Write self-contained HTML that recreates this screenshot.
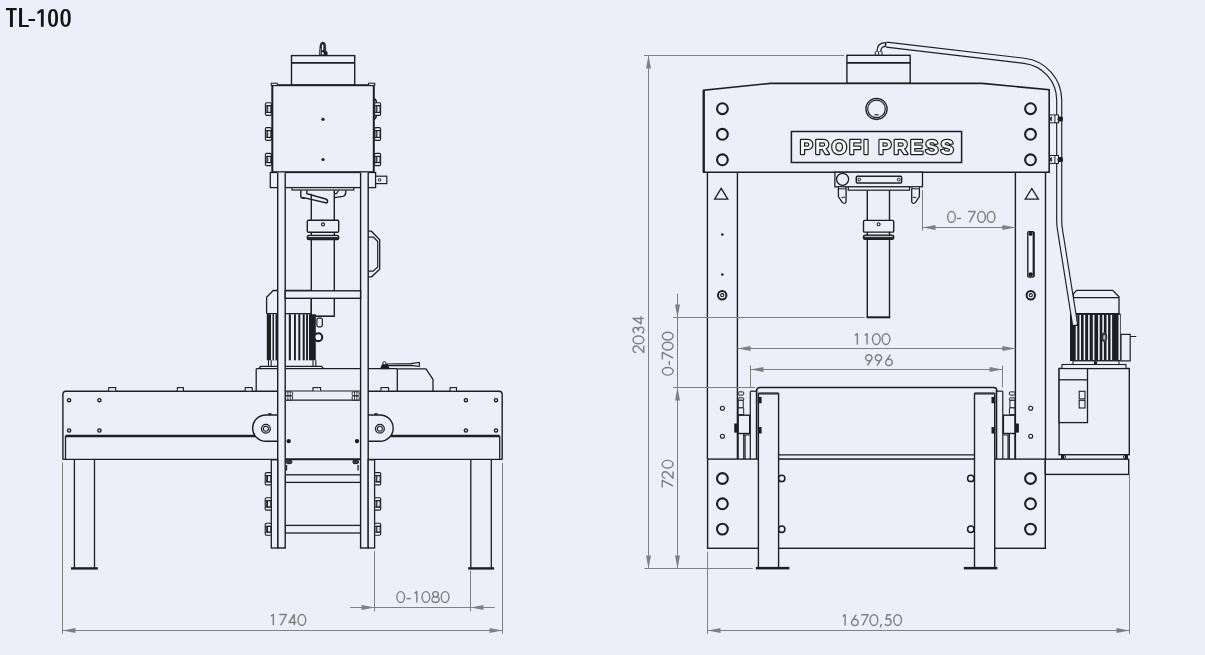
<!DOCTYPE html>
<html><head><meta charset="utf-8"><style>
html,body{margin:0;padding:0;background:#ECEFF9;}
body{width:1205px;height:655px;overflow:hidden;position:relative;font-family:"Liberation Sans",sans-serif;}
#t{position:absolute;left:5.5px;top:1.5px;font-size:28px;font-weight:bold;color:#111;transform:scaleX(0.74);transform-origin:0 0;letter-spacing:0px;}
svg{position:absolute;left:0;top:0;}
svg text{font-family:"Liberation Sans",sans-serif;}
</style></head><body>
<svg width="1205" height="655" viewBox="0 0 1205 655">
<path fill="#141414" d="M6,8 H16.7 V10.15 H12.9 V26.9 H9.95 V10.15 H6 Z"/>
<path fill="#141414" d="M19.1,8 H22.05 V24.9 H28.8 V26.9 H19.1 Z"/>
<rect fill="#141414" x="28.4" y="19" width="6.6" height="2"/>
<path fill="#141414" d="M40.9,9.2 H43.7 V26.8 H40.9 V12.3 L37.4,14.2 V11.8 Z"/>
<path fill="#141414" fill-rule="evenodd" d="M53.05,9.1 C56.762499999999996,9.1 58.0,12.1975 58.0,17.95 C58.0,23.7025 56.762499999999996,26.8 53.05,26.8 C49.3375,26.8 48.1,23.7025 48.1,17.95 C48.1,12.1975 49.3375,9.1 53.05,9.1 Z M53.05,11.1 C54.699999999999996,11.1 55.25,13.4975 55.25,17.95 C55.25,22.4025 54.699999999999996,24.8 53.05,24.8 C51.4,24.8 50.849999999999994,22.4025 50.849999999999994,17.95 C50.849999999999994,13.4975 51.4,11.1 53.05,11.1 Z"/>
<path fill="#141414" fill-rule="evenodd" d="M65.6,9.1 C69.425,9.1 70.7,12.1975 70.7,17.95 C70.7,23.7025 69.425,26.8 65.6,26.8 C61.77499999999999,26.8 60.5,23.7025 60.5,17.95 C60.5,12.1975 61.77499999999999,9.1 65.6,9.1 Z M65.6,11.1 C67.3625,11.1 67.94999999999999,13.4975 67.94999999999999,17.95 C67.94999999999999,22.4025 67.3625,24.8 65.6,24.8 C63.83749999999999,24.8 63.24999999999999,22.4025 63.24999999999999,17.95 C63.24999999999999,13.4975 63.83749999999999,11.1 65.6,11.1 Z"/>
<path d="M319.3,55.5 L320.0,45.5 Q320.6,42.0 322.8,42.0 Q325.2,42.0 325.6,45.5 L325.8,51 L327.2,52 L327.2,55.5 Z" stroke="#1E1E22" stroke-width="0.6" fill="#1E1E22"/>
<rect x="321.9" y="44.6" width="1.5" height="5.6" fill="#F4F6FC"/>
<rect x="321.8" y="52.3" width="1.8" height="2.3" fill="#F4F6FC"/>
<rect x="320.3" y="48.5" width="0.6" height="6.1" fill="#C8CCD8"/>
<rect x="291.5" y="55.6" width="63.2" height="29.6" stroke="#1E1E22" stroke-width="1.4" fill="#ECEFF9" rx="0"/>
<line x1="291.5" y1="62.9" x2="354.7" y2="62.9" stroke="#1E1E22" stroke-width="1.7"/>
<rect x="272.3" y="85.2" width="101.5" height="87.0" stroke="#1E1E22" stroke-width="2.0" fill="#ECEFF9" rx="0"/>
<rect x="271.2" y="83.2" width="6.1" height="2.2" stroke="#1E1E22" stroke-width="1.0" fill="#ECEFF9" rx="0"/>
<rect x="368.6" y="83.2" width="6.2" height="2.2" stroke="#1E1E22" stroke-width="1.0" fill="#ECEFF9" rx="0"/>
<path d="M374.2,98.5 Q376.5,100 376.5,103 L376.5,114.5 Q376.5,117.5 374.2,119.5" stroke="#1E1E22" stroke-width="1.6" fill="none"/>
<rect x="265.4" y="102.7" width="6.0" height="12.7" stroke="#1E1E22" stroke-width="1.1" fill="#ECEFF9" rx="1.2"/>
<line x1="266.9" y1="105.7" x2="266.9" y2="112.4" stroke="#1E1E22" stroke-width="1.0"/>
<rect x="267.7" y="105.7" width="3.1" height="6.7" stroke="#1E1E22" stroke-width="1.0" fill="#ECEFF9" rx="0"/>
<line x1="265.4" y1="105.7" x2="271.4" y2="105.7" stroke="#1E1E22" stroke-width="1.0"/>
<line x1="265.4" y1="112.4" x2="271.4" y2="112.4" stroke="#1E1E22" stroke-width="1.0"/>
<rect x="374.6" y="102.7" width="6.0" height="12.7" stroke="#1E1E22" stroke-width="1.1" fill="#ECEFF9" rx="1.2"/>
<line x1="376.1" y1="105.7" x2="376.1" y2="112.4" stroke="#1E1E22" stroke-width="1.0"/>
<rect x="376.90000000000003" y="105.7" width="3.1" height="6.7" stroke="#1E1E22" stroke-width="1.0" fill="#ECEFF9" rx="0"/>
<line x1="374.6" y1="105.7" x2="380.6" y2="105.7" stroke="#1E1E22" stroke-width="1.0"/>
<line x1="374.6" y1="112.4" x2="380.6" y2="112.4" stroke="#1E1E22" stroke-width="1.0"/>
<rect x="265.4" y="127.6" width="6.0" height="12.8" stroke="#1E1E22" stroke-width="1.1" fill="#ECEFF9" rx="1.2"/>
<line x1="266.9" y1="130.6" x2="266.9" y2="137.4" stroke="#1E1E22" stroke-width="1.0"/>
<rect x="267.7" y="130.6" width="3.1" height="6.8" stroke="#1E1E22" stroke-width="1.0" fill="#ECEFF9" rx="0"/>
<line x1="265.4" y1="130.6" x2="271.4" y2="130.6" stroke="#1E1E22" stroke-width="1.0"/>
<line x1="265.4" y1="137.4" x2="271.4" y2="137.4" stroke="#1E1E22" stroke-width="1.0"/>
<rect x="374.6" y="127.6" width="6.0" height="12.8" stroke="#1E1E22" stroke-width="1.1" fill="#ECEFF9" rx="1.2"/>
<line x1="376.1" y1="130.6" x2="376.1" y2="137.4" stroke="#1E1E22" stroke-width="1.0"/>
<rect x="376.90000000000003" y="130.6" width="3.1" height="6.8" stroke="#1E1E22" stroke-width="1.0" fill="#ECEFF9" rx="0"/>
<line x1="374.6" y1="130.6" x2="380.6" y2="130.6" stroke="#1E1E22" stroke-width="1.0"/>
<line x1="374.6" y1="137.4" x2="380.6" y2="137.4" stroke="#1E1E22" stroke-width="1.0"/>
<rect x="265.4" y="153.4" width="6.0" height="12.2" stroke="#1E1E22" stroke-width="1.1" fill="#ECEFF9" rx="1.2"/>
<line x1="266.9" y1="156.4" x2="266.9" y2="162.6" stroke="#1E1E22" stroke-width="1.0"/>
<rect x="267.7" y="156.4" width="3.1" height="6.2" stroke="#1E1E22" stroke-width="1.0" fill="#ECEFF9" rx="0"/>
<line x1="265.4" y1="156.4" x2="271.4" y2="156.4" stroke="#1E1E22" stroke-width="1.0"/>
<line x1="265.4" y1="162.6" x2="271.4" y2="162.6" stroke="#1E1E22" stroke-width="1.0"/>
<rect x="374.6" y="153.4" width="6.0" height="12.2" stroke="#1E1E22" stroke-width="1.1" fill="#ECEFF9" rx="1.2"/>
<line x1="376.1" y1="156.4" x2="376.1" y2="162.6" stroke="#1E1E22" stroke-width="1.0"/>
<rect x="376.90000000000003" y="156.4" width="3.1" height="6.2" stroke="#1E1E22" stroke-width="1.0" fill="#ECEFF9" rx="0"/>
<line x1="374.6" y1="156.4" x2="380.6" y2="156.4" stroke="#1E1E22" stroke-width="1.0"/>
<line x1="374.6" y1="162.6" x2="380.6" y2="162.6" stroke="#1E1E22" stroke-width="1.0"/>
<circle cx="323" cy="119.3" r="1.6" fill="#1E1E22"/>
<circle cx="323" cy="159.5" r="1.6" fill="#1E1E22"/>
<rect x="270.3" y="172.5" width="105.3" height="15.1" stroke="#1E1E22" stroke-width="1.3" fill="#ECEFF9" rx="0"/>
<rect x="375.6" y="176.2" width="11.2" height="7.4" stroke="#1E1E22" stroke-width="1.2" fill="#ECEFF9" rx="0"/>
<circle cx="379.6" cy="179.9" r="1.3" stroke="#1E1E22" stroke-width="1.0" fill="none"/>
<rect x="292" y="187.6" width="61.8" height="2.4" stroke="#1E1E22" stroke-width="1.2" fill="#ECEFF9" rx="0"/>
<path d="M300.8,190.2 L300.8,196 Q300.8,198.2 303.2,198.3 L305,198.3" stroke="#1E1E22" stroke-width="1.4" fill="none"/>
<path d="M306.9,190.2 L306.9,193.6 L325.8,199.0 Q328.2,200.2 327.4,202.4 L326.6,203.0 L302.5,197.4" stroke="#1E1E22" stroke-width="1.4" fill="#ECEFF9"/>
<line x1="311.3" y1="193.8" x2="311.3" y2="198.5" stroke="#1E1E22" stroke-width="1.3"/>
<path d="M334.2,197.6 L342.8,196.4 Q345.7,195.6 345.7,192.5 L345.7,190.2" stroke="#1E1E22" stroke-width="1.4" fill="none"/>
<path d="M334.2,193.6 L336.5,193.6 L338.6,190.4" stroke="#1E1E22" stroke-width="1.1" fill="none"/>
<line x1="311.3" y1="198" x2="311.3" y2="316.4" stroke="#1E1E22" stroke-width="1.4"/>
<line x1="334.3" y1="190" x2="334.3" y2="316.4" stroke="#1E1E22" stroke-width="1.4"/>
<rect x="307.3" y="220.3" width="31.4" height="12.0" stroke="#1E1E22" stroke-width="1.4" fill="#ECEFF9" rx="1.2"/>
<circle cx="323" cy="224.4" r="1.5" stroke="#1E1E22" stroke-width="1.1" fill="none"/>
<rect x="307.3" y="235.4" width="31.4" height="4.2" stroke="#1E1E22" stroke-width="1.4" fill="#2a2a30" rx="1.6"/>
<line x1="308.3" y1="236.5" x2="337.7" y2="236.5" stroke="#E8EAF4" stroke-width="0.9"/>
<path d="M266.6,313.7 L266.6,297.3 L273.2,290.5 L311.3,290.5" stroke="#1E1E22" stroke-width="1.3" fill="none"/>
<line x1="266.6" y1="313.7" x2="311.3" y2="313.7" stroke="#1E1E22" stroke-width="1.3"/>
<line x1="311.3" y1="298.3" x2="311.3" y2="316.2" stroke="#1E1E22" stroke-width="1.3"/>
<line x1="311.3" y1="316.2" x2="334.6" y2="316.2" stroke="#1E1E22" stroke-width="1.6"/>
<rect x="266.8" y="314.2" width="10.8" height="46.1" fill="#1E1E22"/>
<rect x="271.0" y="314.2" width="1.5" height="46.1" fill="#ECEFF9"/>
<rect x="274.0" y="314.2" width="1.5" height="46.1" fill="#ECEFF9"/>
<rect x="288.8" y="314.2" width="2.1" height="46.1" fill="#1E1E22"/>
<rect x="294.0" y="314.2" width="1.9" height="46.1" fill="#1E1E22"/>
<rect x="298.3" y="314.2" width="2.0" height="46.1" fill="#1E1E22"/>
<rect x="302.7" y="314.2" width="2.0" height="46.1" fill="#1E1E22"/>
<rect x="306.1" y="314.2" width="1.9" height="46.1" fill="#1E1E22"/>
<rect x="309.0" y="314.2" width="6.8" height="46.1" fill="#1E1E22"/>
<line x1="285.2" y1="314.2" x2="285.2" y2="360.3" stroke="#1E1E22" stroke-width="1.2"/>
<line x1="268.5" y1="360.3" x2="268.5" y2="366.3" stroke="#1E1E22" stroke-width="1.1"/>
<line x1="271.2" y1="360.3" x2="271.2" y2="366.3" stroke="#1E1E22" stroke-width="1.1"/>
<line x1="313.0" y1="360.3" x2="313.0" y2="366.3" stroke="#1E1E22" stroke-width="1.1"/>
<line x1="315.8" y1="360.3" x2="315.8" y2="366.3" stroke="#1E1E22" stroke-width="1.1"/>
<path d="M259,368.7 L260.5,366.3 L321.5,366.3 L323.5,368.7" stroke="#1E1E22" stroke-width="1.3" fill="none"/>
<rect x="316.9" y="318.1" width="5.4" height="8.7" stroke="#1E1E22" stroke-width="1.2" fill="#ECEFF9" rx="1.5"/>
<circle cx="318.3" cy="337.2" r="3.9" stroke="#1E1E22" stroke-width="2.1" fill="#F4F6FC"/>
<line x1="256.2" y1="368.7" x2="256.2" y2="390.9" stroke="#1E1E22" stroke-width="1.3"/>
<line x1="256.2" y1="368.7" x2="397.3" y2="368.7" stroke="#1E1E22" stroke-width="1.3"/>
<line x1="397.3" y1="368.7" x2="397.3" y2="390.9" stroke="#1E1E22" stroke-width="1.3"/>
<path d="M397.3,368.9 L426,368.9 L433,379.5 L433,390.9" stroke="#1E1E22" stroke-width="1.3" fill="none"/>
<path d="M387,364.0 L411,363.6 L419.4,362.4 L419.4,366.3 L411,365.4 L387,365.6" stroke="#1E1E22" stroke-width="1.1" fill="#ECEFF9"/>
<path d="M380.6,368.6 L382.2,364.8 L385.0,363.5 L387.6,364.6 L389.0,368.6 Z" stroke="#1E1E22" stroke-width="1.0" fill="#1E1E22"/>
<circle cx="384.4" cy="363.2" r="1.6" stroke="#1E1E22" stroke-width="1.0" fill="#ECEFF9"/>
<path d="M62.9,459.4 L62.9,394.3 Q62.9,391.2 66,391.2 L499,391.2 Q502.2,391.2 502.2,394.3 L502.2,459.4" stroke="#1E1E22" stroke-width="1.4" fill="none"/>
<line x1="62.9" y1="459.4" x2="502.2" y2="459.4" stroke="#1E1E22" stroke-width="1.3"/>
<line x1="65.5" y1="436.0" x2="258" y2="436.0" stroke="#1E1E22" stroke-width="2.3"/>
<line x1="388" y1="436.0" x2="499.7" y2="436.0" stroke="#1E1E22" stroke-width="2.3"/>
<line x1="65.5" y1="436" x2="65.5" y2="459.4" stroke="#1E1E22" stroke-width="1.3"/>
<line x1="499.7" y1="436" x2="499.7" y2="459.4" stroke="#1E1E22" stroke-width="1.3"/>
<rect x="108.7" y="387.6" width="7.0" height="3.6" stroke="#1E1E22" stroke-width="1.1" fill="#ECEFF9" rx="0"/>
<rect x="177.4" y="387.6" width="6.0" height="3.6" stroke="#1E1E22" stroke-width="1.1" fill="#ECEFF9" rx="0"/>
<rect x="245.2" y="387.6" width="7.0" height="3.6" stroke="#1E1E22" stroke-width="1.1" fill="#ECEFF9" rx="0"/>
<rect x="313" y="387.6" width="7.6" height="3.6" stroke="#1E1E22" stroke-width="1.1" fill="#ECEFF9" rx="0"/>
<rect x="381" y="387.6" width="7.6" height="3.6" stroke="#1E1E22" stroke-width="1.1" fill="#ECEFF9" rx="0"/>
<rect x="450.1" y="387.6" width="6.4" height="3.6" stroke="#1E1E22" stroke-width="1.1" fill="#ECEFF9" rx="0"/>
<circle cx="69.1" cy="400.2" r="1.6" stroke="#1E1E22" stroke-width="1.4" fill="none"/>
<circle cx="99.4" cy="400.2" r="1.6" stroke="#1E1E22" stroke-width="1.4" fill="none"/>
<circle cx="69.1" cy="430.5" r="1.6" stroke="#1E1E22" stroke-width="1.4" fill="none"/>
<circle cx="99.4" cy="430.5" r="1.6" stroke="#1E1E22" stroke-width="1.4" fill="none"/>
<circle cx="465.9" cy="400.2" r="1.6" stroke="#1E1E22" stroke-width="1.4" fill="none"/>
<circle cx="496" cy="400.2" r="1.6" stroke="#1E1E22" stroke-width="1.4" fill="none"/>
<circle cx="465.9" cy="430.5" r="1.6" stroke="#1E1E22" stroke-width="1.4" fill="none"/>
<circle cx="496" cy="430.5" r="1.6" stroke="#1E1E22" stroke-width="1.4" fill="none"/>
<line x1="74.4" y1="459" x2="74.4" y2="568" stroke="#1E1E22" stroke-width="1.3"/>
<line x1="94.5" y1="459" x2="94.5" y2="568" stroke="#1E1E22" stroke-width="1.3"/>
<rect x="71" y="567.2" width="26.8" height="2.4" fill="#1E1E22"/>
<line x1="470.8" y1="459" x2="470.8" y2="568" stroke="#1E1E22" stroke-width="1.3"/>
<line x1="491.3" y1="459" x2="491.3" y2="568" stroke="#1E1E22" stroke-width="1.3"/>
<rect x="468.2" y="567.2" width="25.9" height="2.4" fill="#1E1E22"/>
<rect x="278" y="391.5" width="82.5" height="68.0" fill="#ECEFF9"/>
<line x1="285.2" y1="400.1" x2="360.6" y2="400.1" stroke="#1E1E22" stroke-width="1.4"/>
<line x1="285.2" y1="459.2" x2="360.6" y2="459.2" stroke="#1E1E22" stroke-width="2.0"/>
<rect x="285.6" y="391.8" width="7.0" height="3.8" stroke="#1E1E22" stroke-width="0.9" fill="#F4F6FC" rx="0.8"/>
<line x1="287.90000000000003" y1="391.8" x2="287.90000000000003" y2="395.6" stroke="#1E1E22" stroke-width="0.8"/>
<line x1="290.3" y1="391.8" x2="290.3" y2="395.6" stroke="#1E1E22" stroke-width="0.8"/>
<rect x="285.6" y="396.0" width="7.0" height="4.0" stroke="#1E1E22" stroke-width="0.9" fill="#F4F6FC" rx="0.8"/>
<line x1="287.90000000000003" y1="396.0" x2="287.90000000000003" y2="400.0" stroke="#1E1E22" stroke-width="0.8"/>
<line x1="290.3" y1="396.0" x2="290.3" y2="400.0" stroke="#1E1E22" stroke-width="0.8"/>
<rect x="286.40000000000003" y="460.3" width="5.4" height="3.3" stroke="#1E1E22" stroke-width="1.0" fill="#3a3a40" rx="1"/>
<rect x="285.90000000000003" y="465" width="1.3" height="5.5" fill="#333"/>
<rect x="352.2" y="391.8" width="7.0" height="3.8" stroke="#1E1E22" stroke-width="0.9" fill="#F4F6FC" rx="0.8"/>
<line x1="354.5" y1="391.8" x2="354.5" y2="395.6" stroke="#1E1E22" stroke-width="0.8"/>
<line x1="356.9" y1="391.8" x2="356.9" y2="395.6" stroke="#1E1E22" stroke-width="0.8"/>
<rect x="352.2" y="396.0" width="7.0" height="4.0" stroke="#1E1E22" stroke-width="0.9" fill="#F4F6FC" rx="0.8"/>
<line x1="354.5" y1="396.0" x2="354.5" y2="400.0" stroke="#1E1E22" stroke-width="0.8"/>
<line x1="356.9" y1="396.0" x2="356.9" y2="400.0" stroke="#1E1E22" stroke-width="0.8"/>
<rect x="353.0" y="460.3" width="5.4" height="3.3" stroke="#1E1E22" stroke-width="1.0" fill="#3a3a40" rx="1"/>
<rect x="357.4" y="465" width="1.4" height="5.5" fill="#333"/>
<circle cx="288.7" cy="441.1" r="2.2" fill="#1E1E22"/>
<circle cx="357.0" cy="441.1" r="2.2" fill="#1E1E22"/>
<path d="M277.7,415 L265.8,415 A13.15,13.15 0 0 0 265.8,441.3 L277.7,441.3" stroke="#1E1E22" stroke-width="1.4" fill="#ECEFF9"/>
<circle cx="265.9" cy="428.7" r="4.4" stroke="#1E1E22" stroke-width="1.3" fill="none"/>
<circle cx="265.9" cy="428.7" r="2.5" stroke="#1E1E22" stroke-width="1.1" fill="none"/>
<rect x="268.3" y="413.2" width="3.2" height="1.8" fill="#1E1E22"/>
<path d="M368.2,415 L380.0,415 A13.15,13.15 0 0 1 380.0,441.3 L368.2,441.3" stroke="#1E1E22" stroke-width="1.4" fill="#ECEFF9"/>
<circle cx="379.9" cy="428.7" r="4.4" stroke="#1E1E22" stroke-width="1.3" fill="none"/>
<circle cx="379.9" cy="428.7" r="2.5" stroke="#1E1E22" stroke-width="1.1" fill="none"/>
<rect x="374.4" y="413.2" width="3.2" height="1.8" fill="#1E1E22"/>
<rect x="285.2" y="474.8" width="75.4" height="7.6" stroke="#1E1E22" stroke-width="1.3" fill="#ECEFF9" rx="0"/>
<rect x="285.2" y="525.4" width="75.4" height="7.6" stroke="#1E1E22" stroke-width="1.3" fill="#ECEFF9" rx="0"/>
<rect x="277.7" y="172.5" width="7.5" height="375.5" fill="#ECEFF9"/>
<line x1="277.7" y1="172.8" x2="277.7" y2="548" stroke="#1E1E22" stroke-width="1.4"/>
<line x1="285.2" y1="172.8" x2="285.2" y2="548" stroke="#1E1E22" stroke-width="1.4"/>
<line x1="277.0" y1="548" x2="285.9" y2="548" stroke="#1E1E22" stroke-width="1.4"/>
<rect x="360.6" y="172.5" width="7.6" height="375.5" fill="#ECEFF9"/>
<line x1="360.6" y1="172.8" x2="360.6" y2="548" stroke="#1E1E22" stroke-width="1.4"/>
<line x1="368.2" y1="172.8" x2="368.2" y2="548" stroke="#1E1E22" stroke-width="1.4"/>
<line x1="359.90000000000003" y1="548" x2="368.9" y2="548" stroke="#1E1E22" stroke-width="1.4"/>
<rect x="271.3" y="459.8" width="6.4" height="88.2" stroke="#1E1E22" stroke-width="1.3" fill="#ECEFF9" rx="0"/>
<rect x="368.2" y="459.8" width="6.4" height="88.2" stroke="#1E1E22" stroke-width="1.3" fill="#ECEFF9" rx="0"/>
<rect x="265.2" y="472.6" width="6.1" height="12.3" stroke="#1E1E22" stroke-width="1.1" fill="#ECEFF9" rx="1.2"/>
<line x1="266.7" y1="475.6" x2="266.7" y2="481.9" stroke="#1E1E22" stroke-width="1.0"/>
<rect x="267.5" y="475.6" width="3.2" height="6.3" stroke="#1E1E22" stroke-width="1.0" fill="#ECEFF9" rx="0"/>
<line x1="265.2" y1="475.6" x2="271.3" y2="475.6" stroke="#1E1E22" stroke-width="1.0"/>
<line x1="265.2" y1="481.9" x2="271.3" y2="481.9" stroke="#1E1E22" stroke-width="1.0"/>
<rect x="374.6" y="472.6" width="6.1" height="12.3" stroke="#1E1E22" stroke-width="1.1" fill="#ECEFF9" rx="1.2"/>
<line x1="376.1" y1="475.6" x2="376.1" y2="481.9" stroke="#1E1E22" stroke-width="1.0"/>
<rect x="376.90000000000003" y="475.6" width="3.2" height="6.3" stroke="#1E1E22" stroke-width="1.0" fill="#ECEFF9" rx="0"/>
<line x1="374.6" y1="475.6" x2="380.7" y2="475.6" stroke="#1E1E22" stroke-width="1.0"/>
<line x1="374.6" y1="481.9" x2="380.7" y2="481.9" stroke="#1E1E22" stroke-width="1.0"/>
<rect x="265.2" y="497.7" width="6.1" height="12.4" stroke="#1E1E22" stroke-width="1.1" fill="#ECEFF9" rx="1.2"/>
<line x1="266.7" y1="500.7" x2="266.7" y2="507.1" stroke="#1E1E22" stroke-width="1.0"/>
<rect x="267.5" y="500.7" width="3.2" height="6.4" stroke="#1E1E22" stroke-width="1.0" fill="#ECEFF9" rx="0"/>
<line x1="265.2" y1="500.7" x2="271.3" y2="500.7" stroke="#1E1E22" stroke-width="1.0"/>
<line x1="265.2" y1="507.1" x2="271.3" y2="507.1" stroke="#1E1E22" stroke-width="1.0"/>
<rect x="374.6" y="497.7" width="6.1" height="12.4" stroke="#1E1E22" stroke-width="1.1" fill="#ECEFF9" rx="1.2"/>
<line x1="376.1" y1="500.7" x2="376.1" y2="507.1" stroke="#1E1E22" stroke-width="1.0"/>
<rect x="376.90000000000003" y="500.7" width="3.2" height="6.4" stroke="#1E1E22" stroke-width="1.0" fill="#ECEFF9" rx="0"/>
<line x1="374.6" y1="500.7" x2="380.7" y2="500.7" stroke="#1E1E22" stroke-width="1.0"/>
<line x1="374.6" y1="507.1" x2="380.7" y2="507.1" stroke="#1E1E22" stroke-width="1.0"/>
<rect x="265.2" y="523.3" width="6.1" height="11.9" stroke="#1E1E22" stroke-width="1.1" fill="#ECEFF9" rx="1.2"/>
<line x1="266.7" y1="526.3" x2="266.7" y2="532.2" stroke="#1E1E22" stroke-width="1.0"/>
<rect x="267.5" y="526.3" width="3.2" height="5.9" stroke="#1E1E22" stroke-width="1.0" fill="#ECEFF9" rx="0"/>
<line x1="265.2" y1="526.3" x2="271.3" y2="526.3" stroke="#1E1E22" stroke-width="1.0"/>
<line x1="265.2" y1="532.2" x2="271.3" y2="532.2" stroke="#1E1E22" stroke-width="1.0"/>
<rect x="374.6" y="523.3" width="6.1" height="11.9" stroke="#1E1E22" stroke-width="1.1" fill="#ECEFF9" rx="1.2"/>
<line x1="376.1" y1="526.3" x2="376.1" y2="532.2" stroke="#1E1E22" stroke-width="1.0"/>
<rect x="376.90000000000003" y="526.3" width="3.2" height="5.9" stroke="#1E1E22" stroke-width="1.0" fill="#ECEFF9" rx="0"/>
<line x1="374.6" y1="526.3" x2="380.7" y2="526.3" stroke="#1E1E22" stroke-width="1.0"/>
<line x1="374.6" y1="532.2" x2="380.7" y2="532.2" stroke="#1E1E22" stroke-width="1.0"/>
<path d="M368.6,231.2 L371.4,231.2 L379.7,239.8 L379.7,269.1 L371.6,276.8 L368.6,276.8" stroke="#1E1E22" stroke-width="1.3" fill="none"/>
<path d="M368.6,237.2 L373.6,237.2 L377.7,241.6 L377.7,267.0 L373.2,271.2 L368.6,271.2" stroke="#1E1E22" stroke-width="1.2" fill="none"/>
<rect x="285.2" y="290.8" width="75.4" height="7.5" stroke="#1E1E22" stroke-width="1.4" fill="#ECEFF9" rx="0"/>
<line x1="62.5" y1="462.6" x2="62.5" y2="633.8" stroke="#808080" stroke-width="1.0"/>
<line x1="502.5" y1="462.9" x2="502.5" y2="633.8" stroke="#808080" stroke-width="1.0"/>
<line x1="62.5" y1="630.5" x2="502.5" y2="630.5" stroke="#808080" stroke-width="1.0"/>
<polygon points="62.5,630.5 75.5,628.0 75.5,633.0" fill="#808080"/>
<polygon points="502.5,630.5 489.5,628.0 489.5,633.0" fill="#808080"/>
<line x1="374.5" y1="551.2" x2="374.5" y2="611.5" stroke="#808080" stroke-width="1.0"/>
<line x1="470.5" y1="570.6" x2="470.5" y2="611.5" stroke="#808080" stroke-width="1.0"/>
<line x1="350.2" y1="607.5" x2="494.7" y2="607.5" stroke="#808080" stroke-width="1.0"/>
<polygon points="374.5,607.5 361.5,605.0 361.5,610.0" fill="#808080"/>
<polygon points="470.5,607.5 483.5,605.0 483.5,610.0" fill="#808080"/>
<g transform="translate(0,613.8)" fill="none" stroke="#808080" stroke-width="1.45" stroke-linecap="butt" stroke-linejoin="round"><path transform="translate(270.4,0)" d="M0.6,2.4 L2.9,0.7 L2.9,11.5"/><path transform="translate(279.0,0)" d="M0.3,0.75 L7.4,0.75 L1.7,11.5"/><path transform="translate(288.3,0)" d="M6.0,11.5 L6.0,0.7 L0.7,8.7 L8.2,8.7"/><path transform="translate(297.4,0)" d="M0.6499999999999999,6.1 A3.85,5.4 0 1 0 8.35,6.1 A3.85,5.4 0 1 0 0.6499999999999999,6.1 Z"/></g>
<g transform="translate(0,590.9)" fill="none" stroke="#808080" stroke-width="1.45" stroke-linecap="butt" stroke-linejoin="round"><path transform="translate(396.2,0)" d="M0.6499999999999999,6.1 A3.85,5.4 0 1 0 8.35,6.1 A3.85,5.4 0 1 0 0.6499999999999999,6.1 Z"/><path transform="translate(406.2,0)" d="M0.4,7.7 L4.6,7.7"/><path transform="translate(413.9,0)" d="M0.6,2.4 L2.9,0.7 L2.9,11.5"/><path transform="translate(421.4,0)" d="M0.6499999999999999,6.1 A3.85,5.4 0 1 0 8.35,6.1 A3.85,5.4 0 1 0 0.6499999999999999,6.1 Z"/><path transform="translate(431.3,0)" d="M1.5,3.4 A2.75,2.7 0 1 0 7.0,3.4 A2.75,2.7 0 1 0 1.5,3.4 Z M0.7000000000000002,8.6 A3.55,2.9 0 1 0 7.8,8.6 A3.55,2.9 0 1 0 0.7000000000000002,8.6 Z"/><path transform="translate(440.6,0)" d="M0.6499999999999999,6.1 A3.85,5.4 0 1 0 8.35,6.1 A3.85,5.4 0 1 0 0.6499999999999999,6.1 Z"/></g>
<rect x="875.3" y="51.2" width="6.7" height="4.3" stroke="#1E1E22" stroke-width="1.0" fill="#ECEFF9" rx="1.2"/>
<line x1="878.6" y1="51.5" x2="878.6" y2="55.3" stroke="#1E1E22" stroke-width="1.0"/>
<path d="M878.9,51.4 Q878.9,44.5 885.8,44.5" stroke="#1E1E22" stroke-width="5.0" fill="none"/>
<path d="M878.9,51.6 Q878.9,44.5 885.8,44.5" stroke="#ECEFF9" stroke-width="2.6" fill="none"/>
<rect x="884.9" y="42.2" width="1.7" height="4.8" fill="#1E1E22"/>
<rect x="846.9" y="55.3" width="63.3" height="28.1" stroke="#1E1E22" stroke-width="1.4" fill="#ECEFF9" rx="0"/>
<line x1="846.9" y1="62.9" x2="910.2" y2="62.9" stroke="#1E1E22" stroke-width="1.7"/>
<path d="M703.7,172.2 L703.7,90.2 L770.5,83.4 L982.2,83.4 L1049.2,89.8 L1049.2,172.2 Z" stroke="#1E1E22" stroke-width="1.6" fill="#ECEFF9"/>
<line x1="703.7" y1="90.2" x2="703.7" y2="172.2" stroke="#1E1E22" stroke-width="2.2"/>
<circle cx="722.4" cy="108.7" r="5.4" stroke="#1E1E22" stroke-width="2.1" fill="none"/>
<circle cx="1030.5" cy="108.7" r="5.4" stroke="#1E1E22" stroke-width="2.1" fill="none"/>
<circle cx="722.4" cy="134.3" r="5.4" stroke="#1E1E22" stroke-width="2.1" fill="none"/>
<circle cx="1030.5" cy="134.3" r="5.4" stroke="#1E1E22" stroke-width="2.1" fill="none"/>
<circle cx="722.4" cy="159.8" r="5.4" stroke="#1E1E22" stroke-width="2.1" fill="none"/>
<circle cx="1030.5" cy="159.8" r="5.4" stroke="#1E1E22" stroke-width="2.1" fill="none"/>
<circle cx="876.5" cy="108.9" r="10.6" stroke="#1E1E22" stroke-width="1.3" fill="none"/>
<circle cx="876.5" cy="108.9" r="8.8" stroke="#1E1E22" stroke-width="1.2" fill="none"/>
<line x1="874.5" y1="114.8" x2="878.5" y2="114.8" stroke="#1E1E22" stroke-width="1.2"/>
<rect x="791.4" y="131.5" width="170.2" height="31.0" stroke="#1E1E22" stroke-width="1.5" fill="#ECEFF9" rx="0"/>
<text style="filter:grayscale(1)" x="876.8" y="154.4" font-size="19.8" font-weight="bold" text-anchor="middle" fill="#1E1E22" stroke="#1E1E22" stroke-width="2.5" stroke-linejoin="round" textLength="154" lengthAdjust="spacing">PROFI PRESS</text>
<text style="filter:grayscale(1)" x="876.8" y="154.4" font-size="19.8" font-weight="bold" text-anchor="middle" fill="#FBFCFF" stroke="none" stroke-width="0" stroke-linejoin="round" textLength="154" lengthAdjust="spacing">PROFI PRESS</text>
<line x1="707.4" y1="172.2" x2="707.4" y2="459.1" stroke="#1E1E22" stroke-width="1.4"/>
<line x1="737.4" y1="172.2" x2="737.4" y2="459.1" stroke="#1E1E22" stroke-width="1.4"/>
<line x1="1015.4" y1="172.2" x2="1015.4" y2="459.1" stroke="#1E1E22" stroke-width="1.4"/>
<line x1="1045.5" y1="172.2" x2="1045.5" y2="459.1" stroke="#1E1E22" stroke-width="1.4"/>
<path d="M721.2,188.3 L714.6,199.1 L727.8,199.1 Z" stroke="#1E1E22" stroke-width="1.3" fill="none"/>
<path d="M1031.8,188.5 L1025.2,199.2 L1038.4,199.2 Z" stroke="#1E1E22" stroke-width="1.3" fill="none"/>
<circle cx="722.3" cy="234.5" r="1.3" fill="#1E1E22"/>
<circle cx="722.3" cy="274.5" r="1.3" fill="#1E1E22"/>
<circle cx="722.2" cy="295.2" r="4.2" stroke="#1E1E22" stroke-width="2.0" fill="none"/>
<circle cx="722.2" cy="295.2" r="1.6" stroke="#1E1E22" stroke-width="1.1" fill="none"/>
<rect x="1027.8" y="231.6" width="6.0" height="45.4" stroke="#1E1E22" stroke-width="1.4" fill="#F4F6FC" rx="1"/>
<line x1="1033.6" y1="232" x2="1033.6" y2="276.6" stroke="#1E1E22" stroke-width="2.0"/>
<circle cx="1030.6" cy="233.8" r="2.1" fill="#1E1E22"/>
<circle cx="1030.6" cy="274.4" r="2.1" fill="#1E1E22"/>
<circle cx="1030.8" cy="295.2" r="4.2" stroke="#1E1E22" stroke-width="2.0" fill="none"/>
<circle cx="1030.8" cy="295.2" r="1.6" stroke="#1E1E22" stroke-width="1.1" fill="none"/>
<rect x="834.9" y="172.2" width="87.6" height="14.6" stroke="#1E1E22" stroke-width="1.3" fill="#ECEFF9" rx="0"/>
<circle cx="842.6" cy="179.3" r="6.0" stroke="#1E1E22" stroke-width="1.3" fill="none"/>
<rect x="856.3" y="176.2" width="45.3" height="6.9" stroke="#1E1E22" stroke-width="1.5" fill="#ECEFF9" rx="1"/>
<circle cx="859.2" cy="179.6" r="1.4" stroke="#1E1E22" stroke-width="1.0" fill="none"/>
<circle cx="898.7" cy="179.6" r="1.4" stroke="#1E1E22" stroke-width="1.0" fill="none"/>
<rect x="848.3" y="186.8" width="61.2" height="3.4" stroke="#1E1E22" stroke-width="1.2" fill="#ECEFF9" rx="0"/>
<path d="M838.4,188.6 L838.4,196.6 L842.2,202.4 Q843.6,203.8 845.4,203.0 Q846.4,202.2 846.1,200.0 L846.1,188.6" stroke="#1E1E22" stroke-width="1.3" fill="#ECEFF9"/>
<rect x="838.4" y="186.8" width="7.4" height="2.0" stroke="#1E1E22" stroke-width="1.0" fill="#F4F6FC" rx="0"/>
<line x1="841.5" y1="197.5" x2="845.2" y2="197.2" stroke="#1E1E22" stroke-width="1.0"/>
<path d="M919.4,188.6 L919.4,196.6 L915.6,202.4 Q914.2,203.8 912.4,203.0 Q911.4,202.2 911.7,200.0 L911.7,188.6" stroke="#1E1E22" stroke-width="1.3" fill="#ECEFF9"/>
<rect x="912.0" y="186.8" width="7.4" height="2.0" stroke="#1E1E22" stroke-width="1.0" fill="#F4F6FC" rx="0"/>
<line x1="916.3" y1="197.5" x2="912.6" y2="197.2" stroke="#1E1E22" stroke-width="1.0"/>
<line x1="867.3" y1="190.2" x2="867.3" y2="317.3" stroke="#1E1E22" stroke-width="1.4"/>
<line x1="889.5" y1="190.2" x2="889.5" y2="317.3" stroke="#1E1E22" stroke-width="1.4"/>
<line x1="866.6" y1="317.3" x2="890.2" y2="317.3" stroke="#1E1E22" stroke-width="2.0"/>
<rect x="863.5" y="220.4" width="30.2" height="11.7" stroke="#1E1E22" stroke-width="1.4" fill="#ECEFF9" rx="1.2"/>
<circle cx="878.6" cy="224.3" r="1.5" stroke="#1E1E22" stroke-width="1.1" fill="none"/>
<rect x="863.5" y="235.3" width="30.2" height="4.1" stroke="#1E1E22" stroke-width="1.4" fill="#2a2a30" rx="1.6"/>
<line x1="864.5" y1="236.4" x2="892.7" y2="236.4" stroke="#E8EAF4" stroke-width="0.9"/>
<rect x="738.2" y="391.9" width="5.5" height="3.2" stroke="#1E1E22" stroke-width="1.0" fill="#ECEFF9" rx="0.8"/>
<rect x="738.2" y="397.8" width="5.5" height="2.5" stroke="#1E1E22" stroke-width="1.0" fill="#ECEFF9" rx="0.8"/>
<rect x="738.2" y="400.3" width="5.0" height="7.6" stroke="#1E1E22" stroke-width="1.0" fill="#ECEFF9" rx="0"/>
<rect x="738.2" y="407.9" width="5.5" height="6.7" stroke="#1E1E22" stroke-width="1.0" fill="#ECEFF9" rx="0.8"/>
<rect x="734.2" y="423.5" width="4.0" height="9.1" fill="#1E1E22"/>
<rect x="738.2" y="415.2" width="11.5" height="18.3" stroke="#1E1E22" stroke-width="1.4" fill="#ECEFF9" rx="0"/>
<line x1="738.2" y1="433.5" x2="738.2" y2="459" stroke="#1E1E22" stroke-width="1.1"/>
<line x1="743.7" y1="433.5" x2="743.7" y2="459" stroke="#1E1E22" stroke-width="1.1"/>
<line x1="745.0" y1="435" x2="745.0" y2="459" stroke="#1E1E22" stroke-width="1.3"/>
<line x1="743.7" y1="435" x2="749.7" y2="435" stroke="#1E1E22" stroke-width="1.0"/>
<line x1="750.3" y1="391.2" x2="756.6" y2="391.2" stroke="#1E1E22" stroke-width="1.2"/>
<line x1="750.3" y1="391.2" x2="750.3" y2="459" stroke="#1E1E22" stroke-width="1.2"/>
<line x1="756.6" y1="390" x2="756.6" y2="459" stroke="#1E1E22" stroke-width="1.6"/>
<rect x="1009.4" y="391.9" width="5.5" height="3.2" stroke="#1E1E22" stroke-width="1.0" fill="#ECEFF9" rx="0.8"/>
<rect x="1009.4" y="397.8" width="5.5" height="2.5" stroke="#1E1E22" stroke-width="1.0" fill="#ECEFF9" rx="0.8"/>
<rect x="1009.9" y="400.3" width="5.0" height="7.6" stroke="#1E1E22" stroke-width="1.0" fill="#ECEFF9" rx="0"/>
<rect x="1009.4" y="407.9" width="5.5" height="6.7" stroke="#1E1E22" stroke-width="1.0" fill="#ECEFF9" rx="0.8"/>
<rect x="1014.9" y="423.5" width="4.0" height="9.1" fill="#1E1E22"/>
<rect x="1003.4" y="415.2" width="11.5" height="18.3" stroke="#1E1E22" stroke-width="1.4" fill="#ECEFF9" rx="0"/>
<line x1="1014.9" y1="433.5" x2="1014.9" y2="459" stroke="#1E1E22" stroke-width="1.1"/>
<line x1="1009.4" y1="433.5" x2="1009.4" y2="459" stroke="#1E1E22" stroke-width="1.1"/>
<line x1="1008.1" y1="435" x2="1008.1" y2="459" stroke="#1E1E22" stroke-width="1.3"/>
<line x1="1009.4" y1="435" x2="1003.4" y2="435" stroke="#1E1E22" stroke-width="1.0"/>
<line x1="1002.8" y1="391.2" x2="996.5" y2="391.2" stroke="#1E1E22" stroke-width="1.2"/>
<line x1="1002.8" y1="391.2" x2="1002.8" y2="459" stroke="#1E1E22" stroke-width="1.2"/>
<line x1="996.5" y1="390" x2="996.5" y2="459" stroke="#1E1E22" stroke-width="1.6"/>
<circle cx="722.4" cy="408.2" r="2.0" stroke="#1E1E22" stroke-width="1.1" fill="none"/>
<circle cx="1030.7" cy="408.2" r="2.0" stroke="#1E1E22" stroke-width="1.1" fill="none"/>
<circle cx="722.4" cy="436.2" r="2.0" stroke="#1E1E22" stroke-width="1.1" fill="none"/>
<circle cx="1030.7" cy="436.2" r="2.0" stroke="#1E1E22" stroke-width="1.1" fill="none"/>
<path d="M756.6,391 Q756.6,387.5 760,387.5 L993.5,387.5 Q996.9,387.5 996.9,391" stroke="#1E1E22" stroke-width="1.5" fill="none"/>
<line x1="779" y1="454.8" x2="974.2" y2="454.8" stroke="#1E1E22" stroke-width="1.3"/>
<line x1="779" y1="459.4" x2="974.2" y2="459.4" stroke="#1E1E22" stroke-width="1.3"/>
<rect x="707.6" y="459.1" width="337.7" height="89.2" stroke="#1E1E22" stroke-width="1.4" fill="#ECEFF9" rx="0"/>
<circle cx="722.4" cy="478.5" r="5.4" stroke="#1E1E22" stroke-width="2.1" fill="none"/>
<circle cx="1030.5" cy="478.5" r="5.4" stroke="#1E1E22" stroke-width="2.1" fill="none"/>
<circle cx="722.4" cy="503.8" r="5.4" stroke="#1E1E22" stroke-width="2.1" fill="none"/>
<circle cx="1030.5" cy="503.8" r="5.4" stroke="#1E1E22" stroke-width="2.1" fill="none"/>
<circle cx="722.4" cy="529.1" r="5.4" stroke="#1E1E22" stroke-width="2.1" fill="none"/>
<circle cx="1030.5" cy="529.1" r="5.4" stroke="#1E1E22" stroke-width="2.1" fill="none"/>
<circle cx="781.7" cy="478.4" r="3.2" stroke="#1E1E22" stroke-width="1.5" fill="none"/>
<circle cx="781.7" cy="529.3" r="3.2" stroke="#1E1E22" stroke-width="1.5" fill="none"/>
<circle cx="970.8" cy="478.4" r="3.2" stroke="#1E1E22" stroke-width="1.5" fill="none"/>
<circle cx="970.8" cy="529.3" r="3.2" stroke="#1E1E22" stroke-width="1.5" fill="none"/>
<rect x="758.4" y="393" width="20.2" height="174.2" fill="#ECEFF9"/>
<line x1="758.4" y1="393" x2="758.4" y2="567.2" stroke="#1E1E22" stroke-width="1.4"/>
<line x1="778.6" y1="393" x2="778.6" y2="567.2" stroke="#1E1E22" stroke-width="1.4"/>
<rect x="758.4" y="392.3" width="20.2" height="2.3" fill="#3a3a40"/>
<rect x="755.8" y="566.9" width="33.6" height="2.5" fill="#1E1E22"/>
<rect x="974.5" y="393" width="20.2" height="174.2" fill="#ECEFF9"/>
<line x1="974.5" y1="393" x2="974.5" y2="567.2" stroke="#1E1E22" stroke-width="1.4"/>
<line x1="994.7" y1="393" x2="994.7" y2="567.2" stroke="#1E1E22" stroke-width="1.4"/>
<rect x="974.5" y="392.3" width="20.2" height="2.3" fill="#3a3a40"/>
<rect x="963.8" y="566.9" width="33.6" height="2.5" fill="#1E1E22"/>
<rect x="757.9" y="396.9" width="3.7" height="6.4" fill="#1E1E22"/>
<rect x="757.9" y="427.1" width="3.7" height="6.4" fill="#1E1E22"/>
<rect x="991.5" y="396.9" width="3.7" height="6.4" fill="#1E1E22"/>
<rect x="991.5" y="427.1" width="3.7" height="6.4" fill="#1E1E22"/>
<rect x="1059.1" y="368.5" width="70.2" height="86.2" stroke="#1E1E22" stroke-width="1.4" fill="#ECEFF9" rx="0"/>
<rect x="1059.1" y="368.5" width="28.4" height="54.1" stroke="#1E1E22" stroke-width="1.3" fill="#ECEFF9" rx="0"/>
<line x1="1059.1" y1="379.8" x2="1087.5" y2="379.8" stroke="#1E1E22" stroke-width="1.3"/>
<rect x="1079.2" y="391.3" width="5.8" height="7.6" stroke="#1E1E22" stroke-width="1.1" fill="#ECEFF9" rx="0"/>
<rect x="1079.2" y="400.3" width="5.8" height="7.7" stroke="#1E1E22" stroke-width="1.1" fill="#ECEFF9" rx="0"/>
<rect x="1061" y="454.7" width="3" height="4.3" fill="#1E1E22"/>
<rect x="1125" y="454.7" width="3" height="4.3" fill="#1E1E22"/>
<circle cx="1064" cy="457" r="1.5" stroke="#1E1E22" stroke-width="1.0" fill="none"/>
<circle cx="1125" cy="457" r="1.5" stroke="#1E1E22" stroke-width="1.0" fill="none"/>
<rect x="1045.3" y="459.2" width="83.4" height="15.2" stroke="#1E1E22" stroke-width="1.4" fill="#ECEFF9" rx="0"/>
<rect x="1062" y="364.5" width="64" height="4.0" stroke="#1E1E22" stroke-width="1.1" fill="#ECEFF9" rx="0"/>
<path d="M1073.4,313.7 L1073.4,293.7 L1076.6,290.4 L1112.7,290.4 L1119.0,296.8 L1119.0,313.7 Z" stroke="#1E1E22" stroke-width="1.3" fill="#ECEFF9"/>
<line x1="1073.4" y1="297.6" x2="1119" y2="297.6" stroke="#1E1E22" stroke-width="1.2"/>
<rect x="1070.0" y="313.7" width="50.8" height="47.3" fill="#1E1E22"/>
<rect x="1075.7" y="314.9" width="1.6" height="45.1" fill="#ECEFF9"/>
<rect x="1079.4" y="314.9" width="1.6" height="45.1" fill="#ECEFF9"/>
<rect x="1083.6000000000001" y="314.9" width="1.6" height="45.1" fill="#ECEFF9"/>
<rect x="1088.1000000000001" y="314.9" width="1.6" height="45.1" fill="#ECEFF9"/>
<rect x="1092.8" y="314.9" width="1.6" height="45.1" fill="#ECEFF9"/>
<rect x="1098.1000000000001" y="314.9" width="1.6" height="45.1" fill="#ECEFF9"/>
<rect x="1102.3" y="314.9" width="1.6" height="45.1" fill="#ECEFF9"/>
<rect x="1106.5" y="314.9" width="1.6" height="45.1" fill="#ECEFF9"/>
<rect x="1110.5" y="314.9" width="1.6" height="45.1" fill="#ECEFF9"/>
<rect x="1118.5" y="314.9" width="1.6" height="45.1" fill="#ECEFF9"/>
<rect x="1121" y="334.4" width="9.2" height="26.5" stroke="#1E1E22" stroke-width="1.2" fill="#ECEFF9" rx="0"/>
<line x1="1130.2" y1="336.5" x2="1136.3" y2="336.5" stroke="#1E1E22" stroke-width="1.0"/>
<ellipse cx="1104.3" cy="337.3" rx="3" ry="5" fill="#333"/>
<ellipse cx="1104.3" cy="337.3" rx="1.3" ry="2.6" fill="#aaa"/>
<rect x="1073" y="360.9" width="46" height="3.6" stroke="#1E1E22" stroke-width="1.0" fill="#ECEFF9" rx="0"/>
<circle cx="1095.5" cy="362.8" r="1.8" fill="#1E1E22"/>
<path d="M886.4,44.6 L1024.2,60.8 A39.6,39.6 0 0 1 1059.2,100 L1059.2,221 Q1059.2,226 1060.2,231 L1075.2,325.4" stroke="#1E1E22" stroke-width="6.2" fill="none"/>
<path d="M886.4,44.6 L1024.2,60.8 A39.6,39.6 0 0 1 1059.2,100 L1059.2,221 Q1059.2,226 1060.2,231 L1075.2,325.4" stroke="#ECEFF9" stroke-width="3.9" fill="none"/>
<line x1="1071.9" y1="325.9" x2="1078.3" y2="325.0" stroke="#1E1E22" stroke-width="1.3"/>
<rect x="1049.6" y="114.9" width="8.9" height="7.9" stroke="#1E1E22" stroke-width="1.0" fill="#F4F6FC" rx="0"/>
<line x1="1051.6" y1="116.5" x2="1051.6" y2="121.2" stroke="#1E1E22" stroke-width="0.9"/>
<line x1="1054.9" y1="114.9" x2="1054.9" y2="122.80000000000001" stroke="#1E1E22" stroke-width="1.0"/>
<rect x="1057.6" y="116.5" width="5.4" height="4.9" rx="1.6" fill="#1E1E22"/>
<rect x="1049.4" y="117.2" width="1.5" height="3.3" fill="#1E1E22"/>
<rect x="1049.6" y="155.5" width="8.9" height="7.9" stroke="#1E1E22" stroke-width="1.0" fill="#F4F6FC" rx="0"/>
<line x1="1051.6" y1="157.1" x2="1051.6" y2="161.8" stroke="#1E1E22" stroke-width="0.9"/>
<line x1="1054.9" y1="155.5" x2="1054.9" y2="163.4" stroke="#1E1E22" stroke-width="1.0"/>
<rect x="1057.6" y="157.1" width="5.4" height="4.9" rx="1.6" fill="#1E1E22"/>
<rect x="1049.4" y="157.8" width="1.5" height="3.3" fill="#1E1E22"/>
<line x1="644" y1="55.5" x2="844" y2="55.5" stroke="#808080" stroke-width="1.0"/>
<line x1="644.4" y1="568.5" x2="752.7" y2="568.5" stroke="#808080" stroke-width="1.0"/>
<line x1="648.5" y1="55.5" x2="648.5" y2="568.5" stroke="#808080" stroke-width="1.0"/>
<polygon points="648.5,55.5 646.0,68.5 651.0,68.5" fill="#808080"/>
<polygon points="648.5,568.5 646.0,555.5 651.0,555.5" fill="#808080"/>
<line x1="673" y1="317.5" x2="864.8" y2="317.5" stroke="#808080" stroke-width="1.0"/>
<line x1="673" y1="387.5" x2="755" y2="387.5" stroke="#808080" stroke-width="1.0"/>
<line x1="677.5" y1="293.7" x2="677.5" y2="568.5" stroke="#808080" stroke-width="1.0"/>
<polygon points="677.5,317.5 675.0,304.5 680.0,304.5" fill="#808080"/>
<polygon points="677.5,387.5 675.0,400.5 680.0,400.5" fill="#808080"/>
<polygon points="677.5,568.5 675.0,555.5 680.0,555.5" fill="#808080"/>
<line x1="922.5" y1="190.2" x2="922.5" y2="230.7" stroke="#808080" stroke-width="1.0"/>
<line x1="922.5" y1="227.5" x2="1015.4" y2="227.5" stroke="#808080" stroke-width="1.0"/>
<polygon points="922.5,227.5 935.5,225.0 935.5,230.0" fill="#808080"/>
<polygon points="1015.4,227.5 1002.4,225.0 1002.4,230.0" fill="#808080"/>
<line x1="737.6" y1="348.5" x2="1015.4" y2="348.5" stroke="#808080" stroke-width="1.0"/>
<polygon points="737.6,348.5 750.6,346.0 750.6,351.0" fill="#808080"/>
<polygon points="1015.4,348.5 1002.4,346.0 1002.4,351.0" fill="#808080"/>
<line x1="750.5" y1="365.3" x2="750.5" y2="387.8" stroke="#808080" stroke-width="1.0"/>
<line x1="1002.5" y1="365.5" x2="1002.5" y2="387.5" stroke="#808080" stroke-width="1.0"/>
<line x1="750.5" y1="369.5" x2="1002.5" y2="369.5" stroke="#808080" stroke-width="1.0"/>
<polygon points="750.5,369.5 763.5,367.0 763.5,372.0" fill="#808080"/>
<polygon points="1002.5,369.5 989.5,367.0 989.5,372.0" fill="#808080"/>
<line x1="707.5" y1="551.6" x2="707.5" y2="633.8" stroke="#808080" stroke-width="1.0"/>
<line x1="1129.5" y1="474.4" x2="1129.5" y2="633.8" stroke="#808080" stroke-width="1.0"/>
<line x1="707.5" y1="630.5" x2="1129.5" y2="630.5" stroke="#808080" stroke-width="1.0"/>
<polygon points="707.5,630.5 720.5,628.0 720.5,633.0" fill="#808080"/>
<polygon points="1129.5,630.5 1116.5,628.0 1116.5,633.0" fill="#808080"/>
<g transform="translate(0,210.8)" fill="none" stroke="#808080" stroke-width="1.45" stroke-linecap="butt" stroke-linejoin="round"><path transform="translate(947.0,0)" d="M0.6499999999999999,6.1 A3.85,5.4 0 1 0 8.35,6.1 A3.85,5.4 0 1 0 0.6499999999999999,6.1 Z"/><path transform="translate(956.5,0)" d="M0.4,7.7 L4.6,7.7"/><path transform="translate(967.8,0)" d="M0.3,0.75 L7.4,0.75 L1.7,11.5"/><path transform="translate(977.0,0)" d="M0.6499999999999999,6.1 A3.85,5.4 0 1 0 8.35,6.1 A3.85,5.4 0 1 0 0.6499999999999999,6.1 Z"/><path transform="translate(986.6,0)" d="M0.6499999999999999,6.1 A3.85,5.4 0 1 0 8.35,6.1 A3.85,5.4 0 1 0 0.6499999999999999,6.1 Z"/></g>
<g transform="translate(0,333.0)" fill="none" stroke="#808080" stroke-width="1.45" stroke-linecap="butt" stroke-linejoin="round"><path transform="translate(854.4,0)" d="M0.6,2.4 L2.9,0.7 L2.9,11.5"/><path transform="translate(864.2,0)" d="M0.6,2.4 L2.9,0.7 L2.9,11.5"/><path transform="translate(871.8,0)" d="M0.6499999999999999,6.1 A3.85,5.4 0 1 0 8.35,6.1 A3.85,5.4 0 1 0 0.6499999999999999,6.1 Z"/><path transform="translate(881.5,0)" d="M0.6499999999999999,6.1 A3.85,5.4 0 1 0 8.35,6.1 A3.85,5.4 0 1 0 0.6499999999999999,6.1 Z"/></g>
<g transform="translate(0,354.0)" fill="none" stroke="#808080" stroke-width="1.45" stroke-linecap="butt" stroke-linejoin="round"><path transform="translate(865.0,0)" d="M0.7000000000000002,3.75 A3.15,3.05 0 1 0 7.0,3.75 A3.15,3.05 0 1 0 0.7000000000000002,3.75 Z M6.95,4.4 L2.5,11.5"/><path transform="translate(874.6,0)" d="M0.7000000000000002,3.75 A3.15,3.05 0 1 0 7.0,3.75 A3.15,3.05 0 1 0 0.7000000000000002,3.75 Z M6.95,4.4 L2.5,11.5"/><path transform="translate(884.9,0)" d="M0.7000000000000002,8.4 A3.3,3.1 0 1 0 7.3,8.4 A3.3,3.1 0 1 0 0.7000000000000002,8.4 Z M0.75,7.6 L5.5,0.7"/></g>
<g transform="translate(0,614.0)" fill="none" stroke="#808080" stroke-width="1.45" stroke-linecap="butt" stroke-linejoin="round"><path transform="translate(842.2,0)" d="M0.6,2.4 L2.9,0.7 L2.9,11.5"/><path transform="translate(850.8,0)" d="M0.7000000000000002,8.4 A3.3,3.1 0 1 0 7.3,8.4 A3.3,3.1 0 1 0 0.7000000000000002,8.4 Z M0.75,7.6 L5.5,0.7"/><path transform="translate(860.8,0)" d="M0.3,0.75 L7.4,0.75 L1.7,11.5"/><path transform="translate(869.4,0)" d="M0.6499999999999999,6.1 A3.85,5.4 0 1 0 8.35,6.1 A3.85,5.4 0 1 0 0.6499999999999999,6.1 Z"/><path transform="translate(880.0,0)" d="M1.4,9.9 L0.4,13.4"/><path transform="translate(884.0,0)" d="M7.1,0.75 L2.9,0.75 L2.1,5.3 C2.9,4.9 3.6,4.8 4.1,4.8 C6.0,4.8 7.1,6.2 7.1,8.1 C7.1,10.1 5.7,11.5 3.9,11.5 C2.5,11.5 1.4,10.9 0.7,9.9"/><path transform="translate(893.1,0)" d="M0.6499999999999999,6.1 A3.85,5.4 0 1 0 8.35,6.1 A3.85,5.4 0 1 0 0.6499999999999999,6.1 Z"/></g>
<g transform="translate(632.3,353.4) rotate(-90)" fill="none" stroke="#808080" stroke-width="1.45" stroke-linecap="butt" stroke-linejoin="round"><path transform="translate(0,0)" d="M0.8,3.9 C0.8,2.0 2.2,0.7 4.1,0.7 C6.0,0.7 7.3,2.0 7.3,3.7 C7.3,4.8 6.8,5.6 6.0,6.5 L0.8,11.5 L7.7,11.5"/><path transform="translate(9.0,0)" d="M0.6499999999999999,6.1 A3.85,5.4 0 1 0 8.35,6.1 A3.85,5.4 0 1 0 0.6499999999999999,6.1 Z"/><path transform="translate(19.4,0)" d="M0.9,2.6 C1.4,1.4 2.5,0.7 3.8,0.7 C5.5,0.7 6.6,1.8 6.6,3.3 C6.6,4.9 5.3,5.9 3.5,5.9 C5.7,5.9 6.9,7.1 6.9,8.7 C6.9,10.4 5.5,11.5 3.7,11.5 C2.3,11.5 1.1,10.8 0.6,9.6"/><path transform="translate(28.9,0)" d="M6.0,11.5 L6.0,0.7 L0.7,8.7 L8.2,8.7"/></g>
<g transform="translate(661.6,375.8) rotate(-90)" fill="none" stroke="#808080" stroke-width="1.45" stroke-linecap="butt" stroke-linejoin="round"><path transform="translate(0,0)" d="M0.6499999999999999,6.1 A3.85,5.4 0 1 0 8.35,6.1 A3.85,5.4 0 1 0 0.6499999999999999,6.1 Z"/><path transform="translate(10.3,0)" d="M0.4,7.7 L4.6,7.7"/><path transform="translate(16.1,0)" d="M0.3,0.75 L7.4,0.75 L1.7,11.5"/><path transform="translate(25.2,0)" d="M0.6499999999999999,6.1 A3.85,5.4 0 1 0 8.35,6.1 A3.85,5.4 0 1 0 0.6499999999999999,6.1 Z"/><path transform="translate(35.2,0)" d="M0.6499999999999999,6.1 A3.85,5.4 0 1 0 8.35,6.1 A3.85,5.4 0 1 0 0.6499999999999999,6.1 Z"/></g>
<g transform="translate(661.5,487.7) rotate(-90)" fill="none" stroke="#808080" stroke-width="1.45" stroke-linecap="butt" stroke-linejoin="round"><path transform="translate(0,0)" d="M0.3,0.75 L7.4,0.75 L1.7,11.5"/><path transform="translate(8.6,0)" d="M0.8,3.9 C0.8,2.0 2.2,0.7 4.1,0.7 C6.0,0.7 7.3,2.0 7.3,3.7 C7.3,4.8 6.8,5.6 6.0,6.5 L0.8,11.5 L7.7,11.5"/><path transform="translate(19.0,0)" d="M0.6499999999999999,6.1 A3.85,5.4 0 1 0 8.35,6.1 A3.85,5.4 0 1 0 0.6499999999999999,6.1 Z"/></g>
</svg>
</body></html>
